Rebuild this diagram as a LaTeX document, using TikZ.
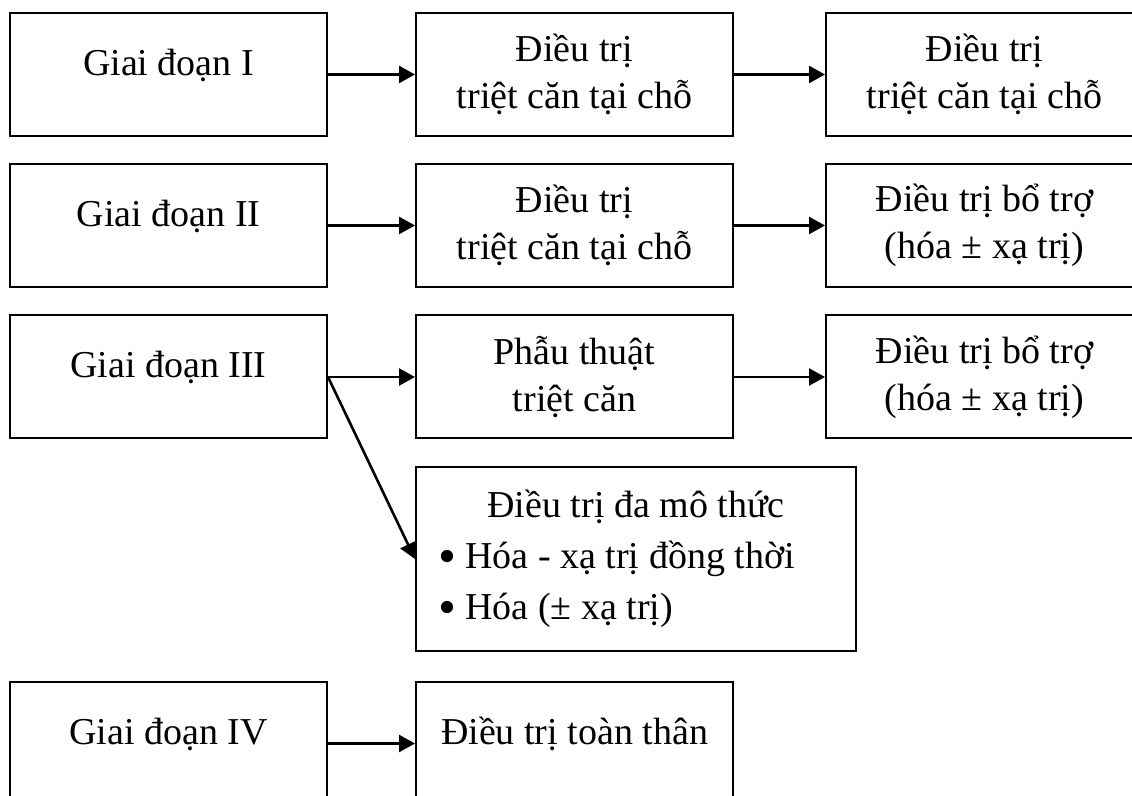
\documentclass[tikz,border=0pt]{standalone}
\usepackage{fontspec}
\setmainfont{Liberation Serif}
\usetikzlibrary{arrows.meta,positioning}

\newcommand{\dotitem}{\raisebox{-2.3pt}{\scalebox{1.35}{•}}\ }

\begin{document}
\begin{tikzpicture}[
  x=0.5pt, y=-0.5pt,
  >={Triangle[length=8pt, width=8.5pt]},
  font=\fontsize{19}{23.5}\selectfont,
  stage/.style={draw, line width=1pt,
                minimum width=158.5pt, minimum height=61.5pt,
                align=center, inner sep=0pt},
  oneline/.style={text height=7.5pt, text depth=6.5pt},
  flow/.style={->, line width=1.3pt},
]
  %% Page frame (boxes on the right and bottom run off the page)
  \clip (0,0) rectangle (1132,796);

  %% Giai doan I
  \node[stage, oneline] (g1) at (168.5, 74.5) {Giai đoạn I};
  \node[stage] (t1) at (574.5, 74.5) {Điều trị\\triệt căn tại chỗ};
  \node[stage] (r1) at (984.5, 74.5) {Điều trị\\triệt căn tại chỗ};

  %% Giai doan II
  \node[stage, oneline] (g2) at (168.5, 225.5) {Giai đoạn II};
  \node[stage] (t2) at (574.5, 225.5) {Điều trị\\triệt căn tại chỗ};
  \node[stage] (r2) at (984.5, 225.5) {Điều trị bổ trợ\\(hóa ± xạ trị)};

  %% Giai doan III
  \node[stage, oneline] (g3) at (168.5, 377) {Giai đoạn III};
  \node[stage] (t3) at (574.5, 377) {Phẫu thuật\\triệt căn};
  \node[stage] (r3) at (984.5, 377) {Điều trị bổ trợ\\(hóa ± xạ trị)};

  %% Multimodal box
  \node[draw, line width=1pt, minimum width=220pt, minimum height=92pt,
        inner ysep=0pt, inner xsep=11pt, text width=198pt, align=left,
        font=\fontsize{19}{25.5}\selectfont] (multi) at (636, 559)
    {\spaceskip=0pt\xspaceskip=0pt\relax
     \makebox[\hsize][c]{Điều trị đa mô thức}\\
     \dotitem Hóa - xạ trị đồng thời\\
     \dotitem Hóa (± xạ trị)};

  %% Giai doan IV
  \node[stage, oneline] (g4) at (168.5, 743.5) {Giai đoạn IV};
  \node[stage, oneline] (t4) at (574.5, 743.5) {Điều trị toàn thân};

  %% Arrows
  \draw[flow] (g1.east) -- (t1.west);
  \draw[flow] (t1.east) -- (r1.west);
  \draw[flow] (g2.east) -- (t2.west);
  \draw[flow] (t2.east) -- (r2.west);
  \draw[flow] (g3.east) -- (t3.west);
  \draw[flow] (t3.east) -- (r3.west);
  \draw[flow] (g3.east) -- (multi.west);
  \draw[flow] (g4.east) -- (t4.west);
\end{tikzpicture}
\end{document}
